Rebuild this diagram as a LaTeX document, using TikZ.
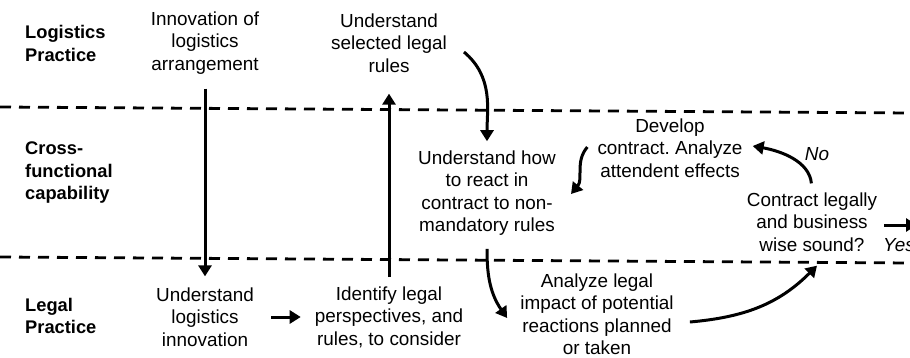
\documentclass[tikz,border=0pt]{standalone}
\usepackage{fontspec}
\setmainfont{Liberation Sans}
\usetikzlibrary{arrows.meta}

\begin{document}
\begin{tikzpicture}[x=1pt,y=1pt,
    lane/.style={font=\fontsize{18.3}{22.5}\selectfont\bfseries, align=left, anchor=west, inner sep=0pt},
    task/.style={font=\fontsize{18.9}{22.5}\selectfont\frenchspacing, align=center, inner sep=2pt},
    answer/.style={font=\fontsize{18.9}{22.5}\selectfont\itshape, inner sep=0pt},
    flow/.style={line width=3pt, -{Triangle[length=11pt,width=13pt]}},
    divider/.style={line width=2.8pt, dash pattern=on 11pt off 8pt}]
    \useasboundingbox (0,0) rectangle (910,357);
    \clip (0,0) rectangle (910,357);

    % lane borders
    \draw[divider] (0,250) -- (910,244);
    \draw[divider] (0,100) -- (910,94);

    % lane names
    \node[lane] (logi) at (25,313.5) {Logistics\\Practice};
    \node[lane] (cross) at (25,184) {Cross-\\functional\\capability};
    \node[lane] (legal) at (25,41) {Legal\\Practice};

    % steps
    \node[task] (inno) at (205,314) {Innovation of\\logistics\\arrangement};
    \node[task] (selrules) at (389,314) {Understand\\selected legal\\rules};
    \node[task] (react) at (487,164) {Understand how\\to react in\\contract to non-\\mandatory rules};
    \node[task] (develop) at (670,209) {Develop\\contract. Analyze\\attendent effects};
    \node[task] (sound) at (812,135) {Contract legally\\and business\\wise sound?};
    \node[task] (undlog) at (205,40) {Understand\\logistics\\innovation};
    \node[task] (identify) at (389,40) {Identify legal\\perspectives, and\\rules, to consider};
    \node[task] (impact) at (597,43) {Analyze legal\\impact of potential\\reactions planned\\or taken};
    \node[answer] (no) at (817,203) {No};
    \node[answer, anchor=west] (yes) at (883,112) {Yes};
    \coordinate (exit) at (917,132);

    % arrows
    \draw[flow, shorten <=12pt, shorten >=9pt] (inno) -- (undlog);
    \draw[flow, shorten <=15pt, shorten >=12pt] (undlog) -- (identify);
    \draw[flow, shorten <=7pt, shorten >=19pt] (identify) -- (selrules);
    \draw[flow, shorten >=7pt] ([shift={(15,-9)}]selrules.east) to[out=-40,in=90] (react.north);
    \draw[flow, shorten <=11pt] (react.south) to[out=-90,in=125] ([shift={(-11,-4)}]impact.west);
    \draw[flow] ([shift={(14,-8)}]impact.east) to[out=5,in=-135] ([shift={(5,-12)}]sound.south);
    \draw[flow, shorten <=7pt] (sound.north) to[out=95,in=-10] ([shift={(8,2)}]develop.east);
    \draw[flow] ([shift={(-8,1)}]develop.west) to[out=-130,in=50] ([shift={(13,-1)}]react.east);
    \draw[flow, shorten <=5pt] ([yshift=-3pt]sound.east) -- (exit);
\end{tikzpicture}
\end{document}
